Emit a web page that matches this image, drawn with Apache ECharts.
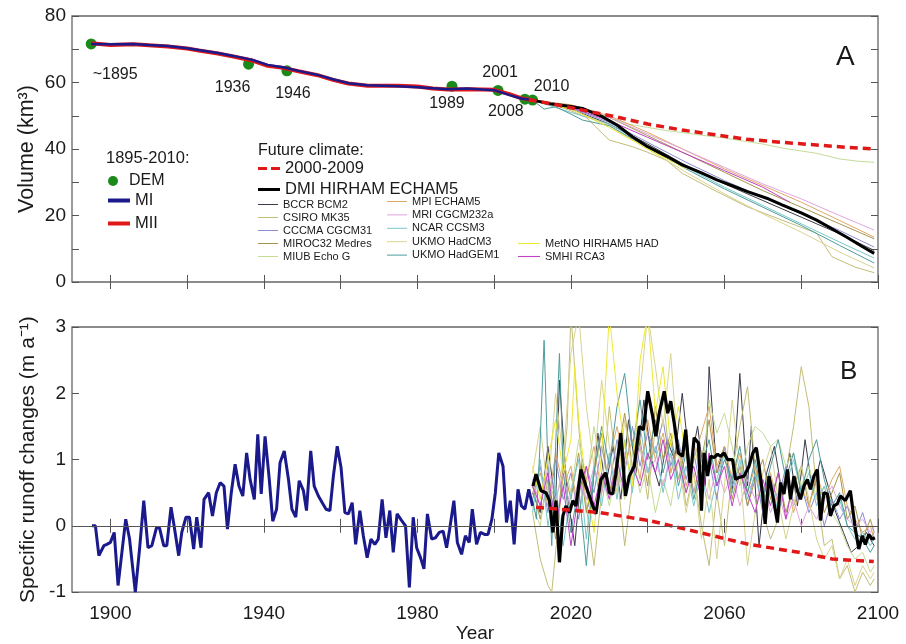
<!DOCTYPE html>
<html><head><meta charset="utf-8">
<script src="https://cdn.jsdelivr.net/npm/echarts@6/dist/echarts.min.js"></script>
<style>html,body{margin:0;padding:0;background:#fff}#c{width:906px;height:644px}</style>
</head><body><div id="c"></div>
<script>
// ---------- tick / label values ----------
const xTickValues = [1900,1920,1940,1960,1980,2000,2020,2040,2060,2080,2100];
const xLabelValues = [1900,1940,1980,2020,2060,2100];
const volTickLabels = [0,20,40,60,80];

// ---------- Panel A: volume (km3) ----------
const demYears = [1895,1936,1946,1989,2001,2008,2010];
const demVolume = [71.6,65.5,63.5,58.9,57.6,55.0,54.7];
const demLabels = ['~1895','1936','1946','1989','2001','2008','2010'];

const volMI = [[1895,71.6],[1900,71.5],[1906,71.6],[1910,71.3],[1915,71.0],[1920,70.3],[1923,69.8],[1928,68.9],[1932,68.0],[1937,66.8],[1941,65.3],[1945,64.6],[1949,63.5],[1954,62.3],[1958,61.0],[1962,59.8],[1967,59.2],[1975,58.9],[1980,58.6],[1984,58.3],[1988,58.0],[1993,58.2],[1997,57.9],[2000,57.7],[2004,56.2],[2007,55.2],[2010,54.7]];
const volMII = [[1895,71.8],[1900,71.3],[1906,71.5],[1910,71.2],[1915,70.8],[1920,70.2],[1923,69.6],[1928,68.7],[1932,67.8],[1937,66.6],[1941,65.0],[1945,64.4],[1949,63.4],[1954,62.2],[1958,60.8],[1962,59.7],[1967,59.0],[1975,59.0],[1980,58.8],[1984,58.2],[1988,57.9],[1993,58.0],[1997,57.9],[2000,57.8],[2004,56.5],[2007,55.3],[2010,54.7]];
const volClim0009 = [[2009,54.8],[2014,53.8],[2023,51.7],[2032,49.6],[2040,47.5],[2049,45.7],[2058,44.2],[2066,42.9],[2075,42.0],[2084,41.2],[2092,40.5],[2099,40.0]];
const volDMI = [[2010,54.7],[2015,53.5],[2020,52.8],[2023,52.2],[2028,49.8],[2032,47.2],[2036,43.7],[2040,40.7],[2045,37.8],[2049,35.2],[2054,32.8],[2058,30.7],[2062,29.0],[2066,27.2],[2071,25.2],[2075,23.2],[2080,20.8],[2084,18.6],[2088,16.0],[2092,13.4],[2096,10.6],[2099,8.6]];
const volBCCR = [[2010,54.7],[2020,52.0],[2030,47.5],[2040,41.5],[2050,35.0],[2060,29.5],[2070,24.5],[2080,19.5],[2090,14.5],[2099,9.5]];
const volCSIRO = [[2010,54.7],[2015,53.5],[2020,51.5],[2024,49.5],[2027,46.0],[2030,42.7],[2036,40.7],[2040,39.0],[2045,36.5],[2049,32.7],[2058,27.2],[2066,22.6],[2075,18.6],[2084,14.7],[2088,7.6],[2094,4.5],[2099,2.8]];
const volCCCMA = [[2010,54.7],[2020,52.3],[2030,48.0],[2040,42.0],[2050,36.0],[2060,30.5],[2070,25.5],[2080,20.5],[2090,15.5],[2099,10.5]];
const volMIROC = [[2010,54.7],[2020,53.0],[2030,49.5],[2040,44.0],[2050,38.5],[2060,33.0],[2070,27.5],[2080,22.5],[2090,17.5],[2099,13.0]];
const volMIUB = [[2010,54.7],[2015,53.8],[2020,52.8],[2025,51.5],[2030,49.5],[2035,47.5],[2040,46.5],[2045,45.5],[2050,44.8],[2055,44.0],[2060,43.3],[2066,42.2],[2070,41.5],[2075,40.3],[2084,38.7],[2090,37.0],[2095,36.3],[2099,36.0]];
const volMPI = [[2010,54.7],[2020,53.3],[2030,50.0],[2040,45.0],[2050,39.5],[2060,34.0],[2070,29.0],[2080,24.0],[2090,18.5],[2099,13.5]];
const volMRI = [[2010,54.7],[2020,53.0],[2030,49.5],[2040,44.5],[2050,39.5],[2060,34.5],[2070,29.5],[2080,25.0],[2090,20.0],[2099,15.6]];
const volNCAR = [[2010,54.7],[2020,51.0],[2030,47.5],[2040,41.0],[2050,34.5],[2060,28.5],[2070,23.0],[2080,17.5],[2090,12.0],[2099,7.2]];
const volHadCM3 = [[2010,54.7],[2020,52.0],[2030,47.0],[2040,40.0],[2050,33.0],[2060,26.5],[2070,20.5],[2080,15.0],[2090,9.0],[2099,4.2]];
const volHadGEM1 = [[2010,54.7],[2013,52.0],[2016,52.7],[2020,50.5],[2023,48.7],[2030,47.0],[2040,40.5],[2050,34.0],[2060,28.0],[2070,22.5],[2080,17.0],[2090,11.0],[2099,5.7]];
const volMetNO = [[2010,54.7],[2020,52.0],[2030,46.5],[2040,40.0],[2050,34.0]];
const volSMHI = [[2010,54.7],[2020,52.5],[2030,48.5],[2040,43.5],[2050,38.5],[2060,33.5],[2070,28.5],[2077,24.0]];

// ---------- Panel B: specific runoff changes (m a-1) ----------
const runHist = [[1895.2,0],[1896.1,0],[1897,-0.45],[1898.3,-0.3],[1899.1,-0.28],[1900,-0.25],[1901,-0.1],[1902,-0.9],[1903,-0.4],[1904,0.1],[1905,-0.2],[1906.5,-1.0],[1907.6,-0.35],[1908.7,0.38],[1909.8,-0.33],[1910.8,-0.3],[1912,-0.03],[1912.8,-0.03],[1913.9,-0.3],[1914.7,-0.3],[1915.8,0.28],[1916.6,0],[1917.8,-0.45],[1918.6,-0.1],[1919.7,0.13],[1920.6,0.13],[1921.7,-0.35],[1922.5,0.13],[1923.6,-0.33],[1924.4,0.4],[1925.6,0.5],[1926.6,0.15],[1927.6,0.5],[1928.6,0.65],[1929.6,0.6],[1930.5,-0.05],[1931.5,0.5],[1932.5,0.93],[1933.5,0.6],[1934.5,0.45],[1935.5,1.1],[1936.4,0.7],[1937.5,0.4],[1938.4,1.38],[1939.3,0.48],[1940.3,1.35],[1941.4,0.7],[1942.3,0.07],[1943.3,0.25],[1944.2,0.95],[1945.3,1.13],[1946.4,0.7],[1947.3,0.25],[1948.3,0.13],[1949.2,0.68],[1950.3,0.53],[1951.1,0.23],[1952.2,1.13],[1953.1,0.6],[1954.2,0.45],[1955.2,0.35],[1956.2,0.25],[1957.2,0.23],[1958.1,0.75],[1959.1,1.2],[1960.1,0.88],[1961.1,0.2],[1962,0.18],[1963,0.35],[1963.9,-0.28],[1965,0.23],[1965.9,-0.15],[1966.9,-0.48],[1967.9,-0.2],[1968.9,-0.28],[1969.8,-0.2],[1970.8,0.4],[1971.8,-0.18],[1972.8,0.23],[1973.7,-0.4],[1974.7,0.18],[1975.9,0.08],[1976.9,0],[1977.9,-0.93],[1978.9,0.13],[1979.8,-0.33],[1980.8,-0.48],[1981.7,-0.65],[1982.6,0.18],[1983.7,-0.2],[1984.7,-0.18],[1985.7,-0.1],[1986.7,-0.08],[1987.6,-0.33],[1988.4,-0.05],[1989.5,0.38],[1990.4,-0.25],[1991.5,-0.43],[1992.5,-0.15],[1993.5,-0.25],[1994.3,0.25],[1995.4,-0.28],[1996.4,-0.1],[1997.5,-0.13],[1998.4,-0.13],[1999.4,0.1],[2000.3,0.5],[2001.2,1.1],[2002.3,0.9],[2003.2,0.05],[2004.2,0.38],[2005.2,-0.28],[2006.2,0.55],[2007.1,0.3],[2008,0.25],[2009,0.55],[2010,0.3]];
const runClim0009 = [[2010.9,0.28],[2027.4,0.2],[2040.4,0.08],[2053.4,-0.1],[2066.4,-0.28],[2079.4,-0.4],[2088.1,-0.5],[2098.9,-0.54]];
const runDMI = [[2010.1,0.6],[2010.9,0.78],[2012.2,0.53],[2013.5,0.5],[2014.4,0.38],[2015.3,-0.1],[2016.1,0.38],[2017.0,-0.55],[2017.9,0.15],[2018.7,0.3],[2019.6,0.2],[2020.5,0.38],[2021.3,0.3],[2022.6,0.85],[2023.9,0.6],[2025.2,0.38],[2026.5,0.18],[2027.8,0.7],[2029.1,0.8],[2030.0,0.5],[2030.9,0.48],[2031.7,0.78],[2033.0,1.4],[2034.2,0.45],[2035.2,0.75],[2036.5,0.9],[2037.8,1.5],[2038.9,1.45],[2040.0,2.03],[2041.3,1.65],[2042.1,1.35],[2043.0,1.7],[2044.3,2.03],[2045.2,1.7],[2046.0,1.88],[2046.9,1.55],[2048.0,1.1],[2049.1,1.05],[2049.9,1.45],[2051.0,0.65],[2052.1,1.33],[2053.2,1.25],[2054.0,0.23],[2054.7,1.1],[2055.6,0.75],[2056.4,1.05],[2057.3,1.03],[2058.2,1.08],[2059.0,1.05],[2059.9,1.1],[2060.8,1.0],[2062.1,1.0],[2062.9,0.7],[2063.8,0.73],[2065.1,0.75],[2066.4,0.9],[2067.4,1.1],[2068.3,1.18],[2069.0,0.9],[2069.9,0.5],[2070.6,0.03],[2071.6,0.75],[2072.6,0.45],[2073.8,0.05],[2074.6,0.65],[2075.5,0.48],[2076.4,0.85],[2077.2,0.4],[2078.1,0.75],[2079.0,0.53],[2079.8,0.4],[2080.7,0.6],[2081.6,0.7],[2082.4,0.55],[2083.3,0.75],[2084.2,0.85],[2085.0,0.08],[2085.9,0.5],[2086.8,0.48],[2087.6,0.15],[2088.5,0.3],[2089.4,0.33],[2090.2,0.45],[2091.5,0.38],[2092.8,0.53],[2094.1,-0.05],[2095.0,-0.35],[2095.9,-0.15],[2096.7,-0.28],[2097.6,-0.13],[2098.5,-0.2],[2099.2,-0.18]];
const runBCCR = [[2010,0.5],[2012,0.2],[2014,1.2],[2016,0.3],[2017,2.2],[2019,0.5],[2021,-0.3],[2023,1.0],[2025,0.2],[2027,1.4],[2029,0.6],[2031,1.2],[2033,0.4],[2035,1.6],[2037,0.8],[2039,1.9],[2041,1.0],[2043,0.6],[2045,1.3],[2047,1.0],[2049,2.0],[2051,0.9],[2053,1.5],[2055,0.6],[2056,2.4],[2058,0.8],[2060,1.2],[2062,0.5],[2064,2.3],[2066,0.6],[2067,1.5],[2069,-0.3],[2071,0.8],[2073,1.2],[2075,0.5],[2077,1.1],[2079,0.3],[2081,1.3],[2083,0.5],[2085,1.0],[2087,0.6],[2089,0.2],[2091,-0.1],[2093,-0.4],[2095,-0.3],[2097,-0.1],[2099,-0.3]];
const runCSIRO = [[2010,0.2],[2012,-0.5],[2014,-0.9],[2015,-1.0],[2017,0.2],[2019,1.5],[2020,3.2],[2022,1.5],[2024,0.3],[2026,-0.6],[2028,0.5],[2030,1.8],[2032,0.8],[2034,-0.3],[2036,0.6],[2038,1.2],[2040,0.4],[2042,1.5],[2044,2.0],[2046,0.8],[2048,1.2],[2050,0.3],[2052,0.8],[2054,0.0],[2056,-0.6],[2058,0.5],[2060,-0.3],[2062,0.8],[2064,1.5],[2066,2.1],[2068,0.9],[2070,0.2],[2072,-0.2],[2074,0.1],[2076,0.8],[2078,1.5],[2080,2.4],[2082,1.8],[2084,0.5],[2086,-0.3],[2088,-0.2],[2090,-0.8],[2092,-0.6],[2094,-1.0],[2096,-0.7],[2098,-0.9],[2099,-0.8]];
const runCCCMA = [[2010,0.4],[2012,0.9],[2014,0.2],[2016,1.0],[2018,0.4],[2020,0.8],[2022,0.1],[2024,0.9],[2026,0.5],[2028,1.2],[2030,0.6],[2032,1.3],[2034,0.8],[2036,1.5],[2038,0.9],[2040,1.4],[2042,1.1],[2044,1.6],[2046,0.9],[2048,1.3],[2050,0.7],[2052,1.1],[2054,0.5],[2056,1.0],[2058,0.4],[2060,1.2],[2062,0.6],[2064,0.9],[2066,0.3],[2068,0.8],[2070,0.2],[2072,0.7],[2074,0.4],[2076,0.9],[2078,0.3],[2080,0.6],[2082,0.2],[2084,0.5],[2086,0.0],[2088,0.4],[2090,0.1],[2092,0.3],[2094,-0.1],[2096,0.2],[2098,-0.2],[2099,-0.1]];
const runMIROC = [[2010,0.6],[2012,0.1],[2014,0.7],[2016,-0.2],[2018,0.9],[2020,0.4],[2022,1.1],[2024,0.2],[2026,0.8],[2028,1.4],[2030,0.5],[2032,1.0],[2034,1.7],[2036,0.9],[2038,1.3],[2040,0.6],[2042,1.8],[2044,1.0],[2046,1.4],[2048,0.7],[2050,1.2],[2052,0.5],[2054,1.0],[2056,1.6],[2058,0.8],[2060,1.1],[2062,0.4],[2064,0.9],[2066,0.3],[2068,0.7],[2070,1.0],[2072,0.4],[2074,0.8],[2076,0.2],[2078,0.6],[2080,0.9],[2082,0.3],[2084,0.7],[2086,0.2],[2088,0.5],[2090,0.8],[2092,0.1],[2094,0.3],[2096,-0.2],[2098,0.1],[2099,-0.1]];
const runMIUB = [[2010,0.3],[2012,0.0],[2014,0.8],[2016,0.3],[2018,1.0],[2020,0.5],[2022,1.3],[2024,0.6],[2026,1.5],[2028,0.8],[2030,0.3],[2032,0.9],[2034,0.4],[2036,1.1],[2038,0.5],[2040,0.9],[2042,0.2],[2044,0.7],[2046,0.3],[2048,1.0],[2050,0.5],[2052,1.3],[2054,0.6],[2056,1.9],[2058,1.4],[2060,1.7],[2062,1.2],[2064,0.6],[2066,1.2],[2068,1.5],[2070,1.4],[2072,1.2],[2074,1.3],[2076,0.9],[2078,1.1],[2080,0.6],[2082,0.9],[2084,0.4],[2086,0.6],[2088,0.2],[2090,0.0],[2092,-0.3],[2094,-0.5],[2096,-0.4],[2098,-0.7],[2099,-0.6]];
const runMPI = [[2010,0.5],[2012,0.8],[2014,0.3],[2016,1.1],[2018,0.6],[2020,0.9],[2022,0.2],[2024,0.7],[2026,1.2],[2028,0.5],[2030,1.0],[2032,1.5],[2034,0.9],[2036,1.3],[2038,0.7],[2040,1.6],[2042,1.0],[2044,1.4],[2046,0.8],[2048,1.2],[2050,0.6],[2052,1.0],[2054,1.4],[2056,1.8],[2058,0.9],[2060,1.2],[2062,0.7],[2064,1.1],[2066,0.5],[2068,0.9],[2070,0.4],[2072,0.8],[2074,0.3],[2076,0.7],[2078,0.2],[2080,0.6],[2082,0.3],[2084,0.8],[2086,0.4],[2088,0.7],[2090,0.9],[2092,0.3],[2094,0.1],[2096,-0.1],[2098,0.0],[2099,-0.2]];
const runMRI = [[2010,0.7],[2012,0.3],[2014,0.9],[2016,0.4],[2018,0.8],[2020,0.2],[2022,0.7],[2024,0.4],[2026,0.9],[2028,0.5],[2030,1.0],[2032,0.6],[2034,1.1],[2036,0.7],[2038,1.2],[2040,0.8],[2042,1.0],[2044,0.6],[2046,1.1],[2048,0.7],[2050,0.9],[2052,0.5],[2054,0.8],[2056,0.4],[2058,0.9],[2060,0.5],[2062,0.8],[2064,0.3],[2066,0.7],[2068,0.4],[2070,0.6],[2072,0.2],[2074,0.5],[2076,0.1],[2078,0.4],[2080,0.0],[2082,0.3],[2084,0.1],[2086,0.4],[2088,0.6],[2090,0.3],[2092,0.1],[2094,0.0],[2096,0.1],[2098,-0.1],[2099,0.0]];
const runNCAR = [[2010,0.2],[2012,1.0],[2014,0.0],[2016,0.6],[2018,-0.3],[2020,0.5],[2022,1.0],[2024,-0.2],[2026,0.9],[2028,0.3],[2030,1.1],[2032,0.4],[2034,1.3],[2036,0.5],[2038,1.5],[2040,0.8],[2042,1.2],[2044,0.5],[2046,1.1],[2048,0.4],[2050,0.9],[2052,0.3],[2054,0.8],[2056,0.2],[2058,0.7],[2060,1.1],[2062,0.5],[2064,1.0],[2066,0.4],[2068,0.8],[2070,0.3],[2072,0.7],[2074,0.2],[2076,0.6],[2078,1.0],[2080,0.5],[2082,0.8],[2084,0.3],[2086,0.6],[2088,0.2],[2090,0.4],[2092,0.0],[2094,-0.2],[2096,-0.1],[2098,-0.3],[2099,-0.2]];
const runHadCM3 = [[2010,0.8],[2012,1.5],[2014,0.5],[2016,2.0],[2018,1.0],[2020,2.6],[2022,3.2],[2024,1.8],[2026,0.9],[2028,2.2],[2030,1.2],[2032,0.5],[2034,1.6],[2036,0.8],[2038,2.0],[2040,3.2],[2042,2.4],[2044,1.5],[2046,2.6],[2048,1.0],[2050,0.2],[2052,0.8],[2054,-0.2],[2056,0.7],[2058,-0.5],[2060,0.6],[2062,1.9],[2064,0.9],[2066,-0.6],[2068,0.2],[2070,0.8],[2072,1.2],[2074,0.4],[2076,-0.2],[2078,0.3],[2080,0.9],[2082,0.4],[2084,-0.2],[2086,-0.5],[2088,-0.3],[2090,-0.8],[2092,-0.5],[2094,-0.9],[2096,-0.6],[2098,-0.8],[2099,-0.7]];
const runHadGEM1 = [[2010,0.4],[2011,0.1],[2012,1.3],[2013,2.8],[2014,0.9],[2015,-0.3],[2016,1.2],[2017,2.6],[2018,0.8],[2020,-0.1],[2022,0.6],[2024,-0.6],[2026,0.8],[2028,1.5],[2030,0.9],[2032,1.8],[2034,2.3],[2036,1.2],[2038,1.9],[2040,1.0],[2042,1.6],[2044,0.8],[2046,1.3],[2048,0.6],[2050,1.1],[2052,0.4],[2054,0.9],[2056,1.3],[2058,0.6],[2060,1.0],[2062,0.7],[2064,1.2],[2066,0.5],[2068,1.0],[2070,0.4],[2072,0.9],[2074,1.3],[2076,0.7],[2078,1.1],[2080,0.5],[2082,1.0],[2084,1.3],[2086,0.7],[2088,0.3],[2090,0.5],[2092,0.0],[2094,-0.1],[2096,-0.2],[2098,-0.4],[2099,-0.3]];
const runMetNO = [[2010,0.9],[2012,0.4],[2014,1.0],[2016,1.6],[2018,0.8],[2020,1.3],[2021,2.4],[2022,1.6],[2024,0.6],[2026,-0.1],[2028,1.1],[2030,3.2],[2032,2.0],[2034,1.2],[2036,0.6],[2038,2.5],[2040,3.2],[2042,1.7],[2044,2.4],[2046,1.2],[2048,1.8],[2050,1.0]];
const runSMHI = [[2010,0.6],[2012,0.3],[2014,0.8],[2016,0.0],[2018,0.6],[2020,-0.3],[2022,0.5],[2024,0.9],[2026,0.3],[2028,0.8],[2030,0.4],[2032,1.0],[2034,0.5],[2036,0.9],[2038,0.6],[2040,1.1],[2042,0.8],[2044,1.3],[2046,0.7],[2048,1.0],[2050,0.5],[2052,0.9],[2054,0.4],[2056,1.1],[2058,0.6],[2060,0.9],[2062,0.3],[2064,0.8],[2066,0.5],[2068,0.2],[2070,0.7],[2072,0.3],[2074,0.8],[2076,0.1],[2077,0.4]];

// ---------- model names & colours ----------
const modelNames = ['BCCR BCM2','CSIRO MK35','CCCMA CGCM31','MIROC32 Medres','MIUB Echo G','MPI ECHAM5','MRI CGCM232a','NCAR CCSM3','UKMO HadCM3','UKMO HadGEM1','MetNO HIRHAM5 HAD','SMHI RCA3'];
const modelColors = ['#3a3a4a','#c2bd78','#8c8cd0','#a8964a','#c4dc96','#e0a868','#e0a6e0','#78c8cc','#d8d490','#4f9c9c','#eee830','#c040c8'];
const modelVol = [volBCCR,volCSIRO,volCCCMA,volMIROC,volMIUB,volMPI,volMRI,volNCAR,volHadCM3,volHadGEM1,volMetNO,volSMHI];
const modelRun = [runBCCR,runCSIRO,runCCCMA,runMIROC,runMIUB,runMPI,runMRI,runNCAR,runHadCM3,runHadGEM1,runMetNO,runSMHI];

const demLabelOffsets = [[24,31],[-16,23],[6,23],[-5,17],[2,-18],[-19,12],[19,-14]];
const FONT = "'Liberation Sans', Arial, sans-serif";
const TXT = '#1a1a1a';
// legend line icons (flat bars / dashes)
const ICON_THIN = 'path://M0 0H20V1H0Z';
const ICON_THICK = 'path://M0 0H22V4H0Z';
const ICON_MED = 'path://M0 0H22V3H0Z';
const ICON_DASH = 'path://M0 0H9V3.2H0Z M13 0H22V3.2H13Z';

function line(name, data, color, width, xi, yi, extra) {
  return Object.assign({
    type: 'line', name: name, data: data, xAxisIndex: xi, yAxisIndex: yi,
    showSymbol: false, symbol: 'none', smooth: false, animation: false,
    lineStyle: { color: color, width: width }, itemStyle: { color: color }
  }, extra || {});
}

const series = [];
// Panel A
modelNames.forEach((n, i) => series.push(line(n, modelVol[i], modelColors[i], 1, 0, 0)));
series.push(line('MII', volMII, '#e01818', 4, 0, 0));
series.push(line('MI', volMI, '#1a1a8c', 2.5, 0, 0));
series.push(line('DMI HIRHAM ECHAM5', volDMI, '#000000', 3, 0, 0));
series.push(line('2000-2009', volClim0009, '#e01818', 3.5, 0, 0, { lineStyle: { color: '#e01818', width: 3.5, type: [8, 5] } }));
series.push({
  type: 'scatter', name: 'DEM', xAxisIndex: 0, yAxisIndex: 0, symbolSize: 11, animation: false,
  itemStyle: { color: '#1b8a1b', opacity: 1 },
  label: { show: true, position: 'inside', fontSize: 16, fontFamily: FONT, color: TXT,
           textBorderWidth: 0, opacity: 1, formatter: p => demLabels[p.dataIndex] },
  data: demYears.map((y, i) => ({
    value: [y, demVolume[i]],
    label: { offset: demLabelOffsets[i] }
  }))
});
// Panel B
modelNames.forEach((n, i) => series.push(line(n, modelRun[i], modelColors[i], 1, 2, 2)));
series.push(line('MI', runHist, '#1a1a8c', 3, 2, 2, {
  markLine: { silent: true, symbol: 'none', label: { show: false }, animation: false,
              lineStyle: { color: '#555', width: 1, type: 'solid' }, data: [{ yAxis: 0 }] }
}));
series.push(line('DMI HIRHAM ECHAM5', runDMI, '#000000', 3.2, 2, 2));
series.push(line('2000-2009', runClim0009, '#e01818', 3.5, 2, 2, { lineStyle: { color: '#e01818', width: 3.5, type: [8, 5] } }));

const tick = { show: true, inside: true, length: 7, lineStyle: { color: '#555', width: 1 } };
const noLine = { show: false };
const plain = v => String(v);
function xAx(grid, pos, labels, extra) {
  return Object.assign({
    type: 'value', gridIndex: grid, position: pos, min: 1890, max: 2100,
    axisLine: noLine, splitLine: { show: false },
    axisTick: Object.assign({}, tick, { customValues: xTickValues }),
    axisLabel: labels ? { show: true, customValues: xLabelValues, formatter: plain, fontSize: 19, fontFamily: FONT, color: TXT, margin: 12 } : { show: false }
  }, extra || {});
}
function yAx(grid, pos, min, max, interval, labels, extra) {
  return Object.assign({
    type: 'value', gridIndex: grid, position: pos, min: min, max: max, interval: interval,
    axisLine: noLine, splitLine: { show: false }, axisTick: tick,
    axisLabel: labels ? Object.assign({ show: true, formatter: plain, fontSize: 19, fontFamily: FONT, color: TXT, margin: 6 }, labels) : { show: false }
  }, extra || {});
}
const thinItems = names => names.map(n => ({ name: n, icon: ICON_THIN }));

const option = {
  backgroundColor: '#ffffff',
  animation: false,
  textStyle: { fontFamily: FONT },
  grid: [
    { left: 72, right: 28, top: 16, height: 266, show: true, borderColor: '#666', borderWidth: 1.3, backgroundColor: 'transparent' },
    { left: 72, right: 28, top: 327, height: 266, show: true, borderColor: '#666', borderWidth: 1.3, backgroundColor: 'transparent' }
  ],
  xAxis: [
    xAx(0, 'bottom', false),
    xAx(0, 'top', false),
    xAx(1, 'bottom', true, { name: 'Year', nameLocation: 'middle', nameGap: 29, nameTextStyle: { fontSize: 19, fontFamily: FONT, color: TXT } }),
    xAx(1, 'top', false)
  ],
  yAxis: [
    yAx(0, 'left', 0, 80, 10, { customValues: volTickLabels }, {
      name: 'Volume (km³)', nameLocation: 'middle', nameGap: 34, nameMoveOverlap: false,
      nameTextStyle: { fontSize: 21.5, fontFamily: FONT, color: TXT }
    }),
    yAx(0, 'right', 0, 80, 10, null),
    yAx(1, 'left', -1, 3, 1, {}, {
      name: 'Specific runoff changes (m a⁻¹)', nameLocation: 'middle', nameGap: 33, nameMoveOverlap: false,
      nameTextStyle: { fontSize: 21, fontFamily: FONT, color: TXT }
    }),
    yAx(1, 'right', -1, 3, 1, null)
  ],
  legend: [
    { data: [{ name: 'DEM', icon: 'circle' }], left: 108, top: 173, orient: 'vertical', padding: 0,
      itemWidth: 22, itemHeight: 10, selectedMode: false,
      textStyle: { fontSize: 16, fontFamily: FONT, color: TXT, lineHeight: 16 } },
    { data: [{ name: 'MI', icon: ICON_THICK }, { name: 'MII', icon: ICON_THICK }], left: 108, top: 192, orient: 'vertical', padding: 0, itemGap: 6,
      itemWidth: 22, itemHeight: 14, selectedMode: false,
      textStyle: { fontSize: 16.5, fontFamily: FONT, color: TXT, lineHeight: 16 } },
    { data: [{ name: '2000-2009', icon: ICON_DASH }, { name: 'DMI HIRHAM ECHAM5', icon: ICON_MED }], left: 258, top: 160, orient: 'vertical', padding: 0, itemGap: 4,
      itemWidth: 22, itemHeight: 14, selectedMode: false,
      textStyle: { fontSize: 16.5, fontFamily: FONT, color: TXT, lineHeight: 16 } },
    { data: thinItems(modelNames.slice(0, 5)), left: 258, top: 199, orient: 'vertical', padding: 0, itemGap: 2,
      itemWidth: 20, itemHeight: 11, selectedMode: false,
      textStyle: { fontSize: 11, fontFamily: FONT, color: TXT, lineHeight: 11 } },
    { data: thinItems(modelNames.slice(5, 10)), left: 387, top: 196, orient: 'vertical', padding: 0, itemGap: 2.4,
      itemWidth: 20, itemHeight: 11, selectedMode: false,
      textStyle: { fontSize: 11, fontFamily: FONT, color: TXT, lineHeight: 11 } },
    { data: thinItems(modelNames.slice(10, 12)), left: 518, top: 238, orient: 'vertical', padding: 0, itemGap: 2,
      itemWidth: 22, itemHeight: 11, selectedMode: false,
      textStyle: { fontSize: 11, fontFamily: FONT, color: TXT, lineHeight: 11 } }
  ],
  graphic: [
    { type: 'text', left: 106, top: 150, style: { text: '1895-2010:', fontSize: 16.5, fontFamily: FONT, fill: TXT } },
    { type: 'text', left: 258, top: 143, style: { text: 'Future climate:', fontSize: 16, fontFamily: FONT, fill: TXT } },
    { type: 'text', left: 836, top: 43, style: { text: 'A', fontSize: 28, fontFamily: FONT, fill: TXT } },
    { type: 'text', left: 840, top: 359, style: { text: 'B', fontSize: 26, fontFamily: FONT, fill: TXT } }
  ],
  series: series
};

const chart = echarts.init(document.getElementById('c'), null, { renderer: 'canvas' });
chart.setOption(option);
</script>
</body></html>
